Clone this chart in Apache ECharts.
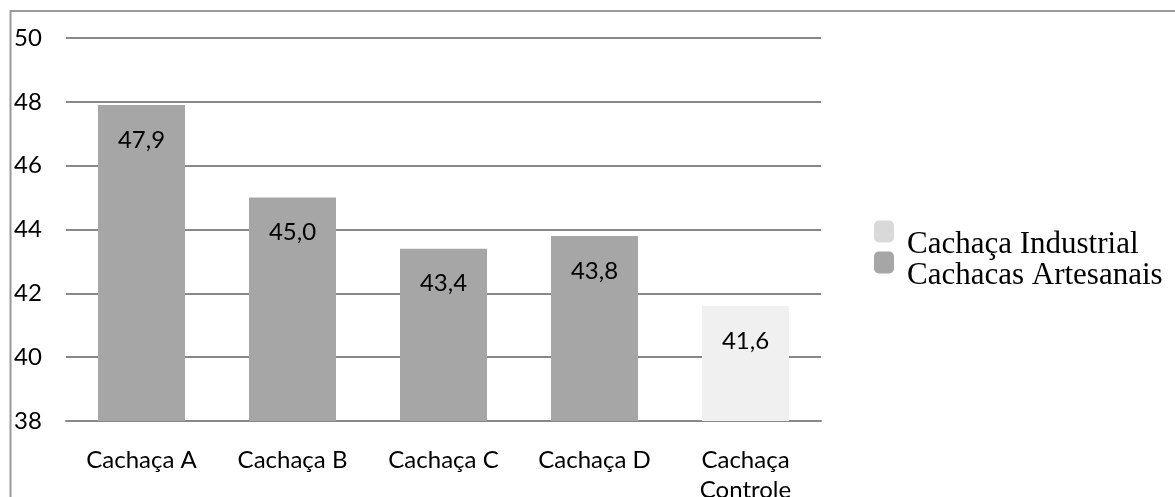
<!DOCTYPE html>
<html>
<head>
<meta charset="utf-8">
<script src="https://cdn.jsdelivr.net/npm/echarts@6/dist/echarts.min.js"></script>
<style>
  html, body { margin: 0; padding: 0; background: #fff; }
  #chart { width: 1175px; height: 497px; }
</style>
</head>
<body>
<div id="chart"></div>
<script>
// Categories and measured values
const categories = ['Cachaça A', 'Cachaça B', 'Cachaça C', 'Cachaça D', 'Cachaça\nControle'];
const artesanais = [47.9, 45.0, 43.4, 43.8, null];
const industrial = [null, null, null, null, 41.6];
const yTicks = { min: 38, max: 50, interval: 2 };

const labelFont = 'Lato, "Open Sans", sans-serif';
const fmt = p => p.value == null ? '' : p.value.toFixed(1).replace('.', ',');

const chart = echarts.init(document.getElementById('chart'));
chart.setOption({
  animation: false,
  graphic: [{
    type: 'rect',
    shape: { x: 10.5, y: 11, width: 2000, height: 2000 },
    style: { fill: 'none', stroke: '#9a9a9a', lineWidth: 2 },
    silent: true
  }],
  grid: { left: 66, right: 354, top: 38, bottom: 76, containLabel: false, outerBoundsMode: 'none' },
  legend: {
    orient: 'vertical',
    left: 874,
    top: 203,
    padding: 0,
    itemWidth: 20,
    itemHeight: 22,
    itemGap: -26,
    icon: 'roundRect',
    formatter: '{t|{name}}',
    textStyle: {
      rich: {
        t: {
          fontFamily: '"Liberation Serif", "Times New Roman", serif',
          fontSize: 31, color: '#000', lineHeight: 22,
          padding: [26, 0, 0, 8]
        }
      }
    },
    data: [
      { name: 'Cachaça Industrial', itemStyle: { color: '#d9d9d9' } },
      { name: 'Cachacas Artesanais', itemStyle: { color: '#a6a6a6' } }
    ]
  },
  xAxis: {
    type: 'category',
    data: categories,
    axisLine: { show: true, lineStyle: { color: '#888', width: 2 } },
    axisTick: { show: false },
    axisLabel: { color: '#000', fontFamily: labelFont, fontSize: 24, margin: 24, lineHeight: 30 }
  },
  yAxis: {
    type: 'value',
    min: yTicks.min,
    max: yTicks.max,
    interval: yTicks.interval,
    axisLine: { show: false },
    axisTick: { show: false },
    splitLine: { lineStyle: { color: '#888', width: 2 } },
    axisLabel: { color: '#000', fontFamily: labelFont, fontSize: 24, align: 'left', margin: 52 }
  },
  series: [
    {
      name: 'Cachacas Artesanais',
      type: 'bar',
      data: artesanais,
      barWidth: 87,
      barGap: '-100%',
      itemStyle: { color: '#a6a6a6' },
      label: { show: true, position: 'insideTop', distance: 23, formatter: fmt, color: '#000', fontFamily: labelFont, fontSize: 24 }
    },
    {
      name: 'Cachaça Industrial',
      type: 'bar',
      data: industrial,
      barWidth: 87,
      barGap: '-100%',
      itemStyle: { color: '#f0f0f0' },
      label: { show: true, position: 'insideTop', distance: 23, formatter: fmt, color: '#000', fontFamily: labelFont, fontSize: 24 }
    }
  ]
});
</script>
</body>
</html>
